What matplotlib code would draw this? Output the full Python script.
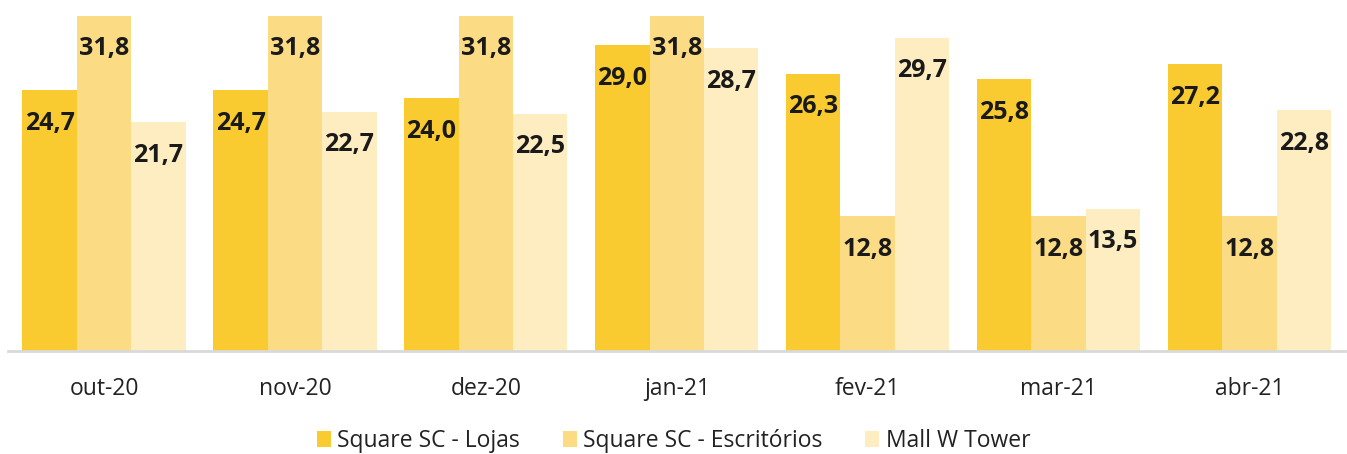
import matplotlib
matplotlib.use("Agg")
import matplotlib.pyplot as plt
import numpy as np

categories = ["out-20", "nov-20", "dez-20", "jan-21", "fev-21", "mar-21", "abr-21"]
series_names = ["Square SC - Lojas", "Square SC - Escritórios", "Mall W Tower"]
lojas = [24.7, 24.7, 24.0, 29.0, 26.3, 25.8, 27.2]
escritorios = [31.8, 31.8, 31.8, 31.8, 12.8, 12.8, 12.8]
mall = [21.7, 22.7, 22.5, 28.7, 29.7, 13.5, 22.8]
colors = ["#F9CB30", "#FBDB84", "#FDEDC0"]

plt.rcParams['font.family'] = ['Open Sans', 'DejaVu Sans']

fig = plt.figure(figsize=(13.47, 4.54), dpi=100)
ax = fig.add_axes([8/1347, 103/454, 1337/1347, 351/454])

x = np.arange(len(categories))
w = 0.285
for i, (vals, name, c) in enumerate(zip([lojas, escritorios, mall], series_names, colors)):
    bars = ax.bar(x + (i - 1) * w, vals, w, color=c, label=name, linewidth=0)
    for b, v in zip(bars, vals):
        ax.annotate(f"{v:.1f}".replace(".", ","),
                    (b.get_x() + b.get_width() / 2, v),
                    xytext=(0, -24), textcoords="offset points",
                    ha="center", va="center", fontsize=18, fontweight="bold",
                    color="#1a1a1a")

ax.set_xlim(-0.503, 6.5)
ax.set_ylim(0, 33.27)
ax.set_xticks(x)
ax.set_xticklabels(categories, fontsize=16.5, color="#222222")
ax.tick_params(axis='x', length=0, pad=19)
ax.set_yticks([])
for s in ["top", "right", "left"]:
    ax.spines[s].set_visible(False)
ax.spines["bottom"].set_color("#D9D9D9")
ax.spines["bottom"].set_linewidth(2)

leg = fig.legend(loc="center", bbox_to_anchor=(0.5, 1 - 441/454), ncol=3, frameon=False,
                 fontsize=16.5, handlelength=0.62, handleheight=0.65, handletextpad=0.28,
                 columnspacing=1.85)
for t in leg.get_texts():
    t.set_color("#222222")

fig.savefig("out.png", dpi=100)
